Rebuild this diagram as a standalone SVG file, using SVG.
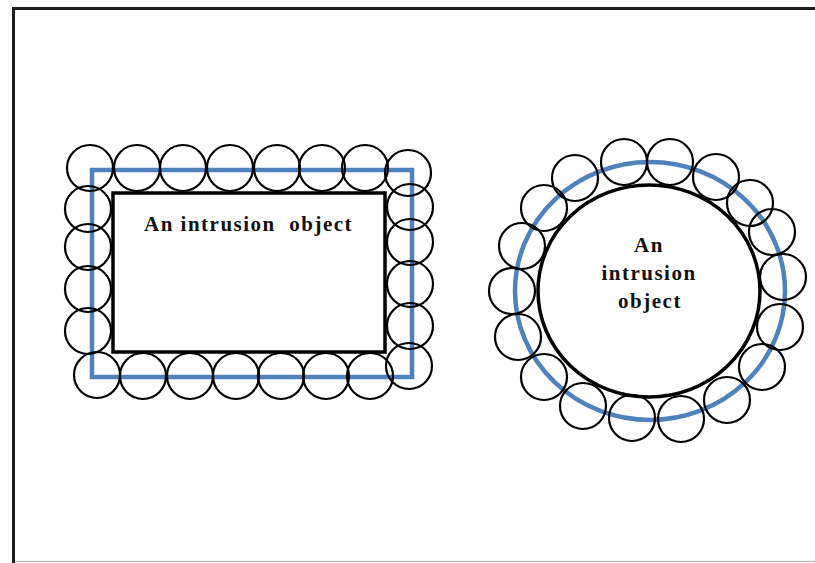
<svg xmlns="http://www.w3.org/2000/svg" width="815" height="563" viewBox="0 0 815 563">
  <style>
    .frame { stroke: #1e1e1e; stroke-width: 3; fill: none; }
    .frame-bottom { stroke: #bdbdbd; stroke-width: 1.5; fill: none; }
    .object { fill: #ffffff; stroke: #000000; stroke-width: 3.5; }
    .guide { fill: none; stroke: #4f81bd; stroke-width: 4.5; }
    .bead { fill: none; stroke: #000000; stroke-width: 2.2; }
    .label { font-family: "Liberation Serif", "Times New Roman", serif; font-weight: bold; font-size: 21px; letter-spacing: 1.5px; fill: #111111; }
    .keep-spaces { white-space: pre; }
  </style>

  <rect width="815" height="563" fill="#ffffff"/>

  <!-- page frame -->
  <g id="frame">
    <line class="frame" x1="12" y1="8.5" x2="815" y2="8.5"/>
    <line class="frame" x1="13.5" y1="7" x2="13.5" y2="563"/>
    <line class="frame-bottom" x1="15" y1="561.5" x2="815" y2="561.5"/>
  </g>

  <!-- rectangular intrusion object with surrounding beads -->
  <g id="rect-object">
    <rect class="object" x="113" y="193" width="272" height="159"/>
    <rect class="guide" x="92" y="170" width="320" height="207"/>
    <g id="rect-beads">
      <!-- top row -->
      <circle class="bead" cx="90" cy="168" r="23"/>
      <circle class="bead" cx="137" cy="168" r="23"/>
      <circle class="bead" cx="183" cy="168" r="23"/>
      <circle class="bead" cx="230" cy="168" r="23"/>
      <circle class="bead" cx="277" cy="168" r="23"/>
      <circle class="bead" cx="322" cy="168" r="23"/>
      <circle class="bead" cx="365" cy="168" r="23"/>
      <circle class="bead" cx="408" cy="173" r="23"/>
      <!-- right column -->
      <circle class="bead" cx="410" cy="207" r="23"/>
      <circle class="bead" cx="410" cy="242" r="23"/>
      <circle class="bead" cx="410" cy="284" r="23"/>
      <circle class="bead" cx="410" cy="326" r="23"/>
      <circle class="bead" cx="409" cy="366" r="23"/>
      <!-- bottom row -->
      <circle class="bead" cx="370" cy="376" r="23"/>
      <circle class="bead" cx="326" cy="376" r="23"/>
      <circle class="bead" cx="281" cy="376" r="23"/>
      <circle class="bead" cx="236" cy="376" r="23"/>
      <circle class="bead" cx="190" cy="376" r="23"/>
      <circle class="bead" cx="143" cy="376" r="23"/>
      <circle class="bead" cx="97" cy="375" r="23"/>
      <!-- left column -->
      <circle class="bead" cx="88" cy="331" r="23"/>
      <circle class="bead" cx="88" cy="289" r="23"/>
      <circle class="bead" cx="88" cy="247" r="23"/>
      <circle class="bead" cx="88" cy="209" r="23"/>
    </g>
    <text class="label keep-spaces" x="144" y="231" xml:space="preserve">An intrusion  object</text>
  </g>

  <!-- circular intrusion object with surrounding beads -->
  <g id="circle-object">
    <ellipse class="object" cx="649" cy="291" rx="111" ry="106"/>
    <ellipse class="guide" cx="650" cy="291" rx="135" ry="129"/>
    <g id="circle-beads">
      <circle class="bead" cx="624" cy="162" r="23"/>
      <circle class="bead" cx="670" cy="162" r="23"/>
      <circle class="bead" cx="716" cy="177" r="23"/>
      <circle class="bead" cx="750" cy="203" r="23"/>
      <circle class="bead" cx="772" cy="232" r="23"/>
      <circle class="bead" cx="783" cy="277" r="23"/>
      <circle class="bead" cx="780" cy="327" r="23"/>
      <circle class="bead" cx="762" cy="367" r="23"/>
      <circle class="bead" cx="727" cy="400" r="23"/>
      <circle class="bead" cx="681" cy="419" r="23"/>
      <circle class="bead" cx="632" cy="418" r="23"/>
      <circle class="bead" cx="583" cy="406" r="23"/>
      <circle class="bead" cx="544" cy="377" r="23"/>
      <circle class="bead" cx="518" cy="337" r="23"/>
      <circle class="bead" cx="512" cy="291" r="23"/>
      <circle class="bead" cx="522" cy="246" r="23"/>
      <circle class="bead" cx="544" cy="208" r="23"/>
      <circle class="bead" cx="575" cy="178" r="23"/>
    </g>
    <text class="label" text-anchor="middle"><tspan x="649" y="252">An</tspan><tspan x="649" y="280">intrusion</tspan><tspan x="650" y="308">object</tspan></text>
  </g>
</svg>
